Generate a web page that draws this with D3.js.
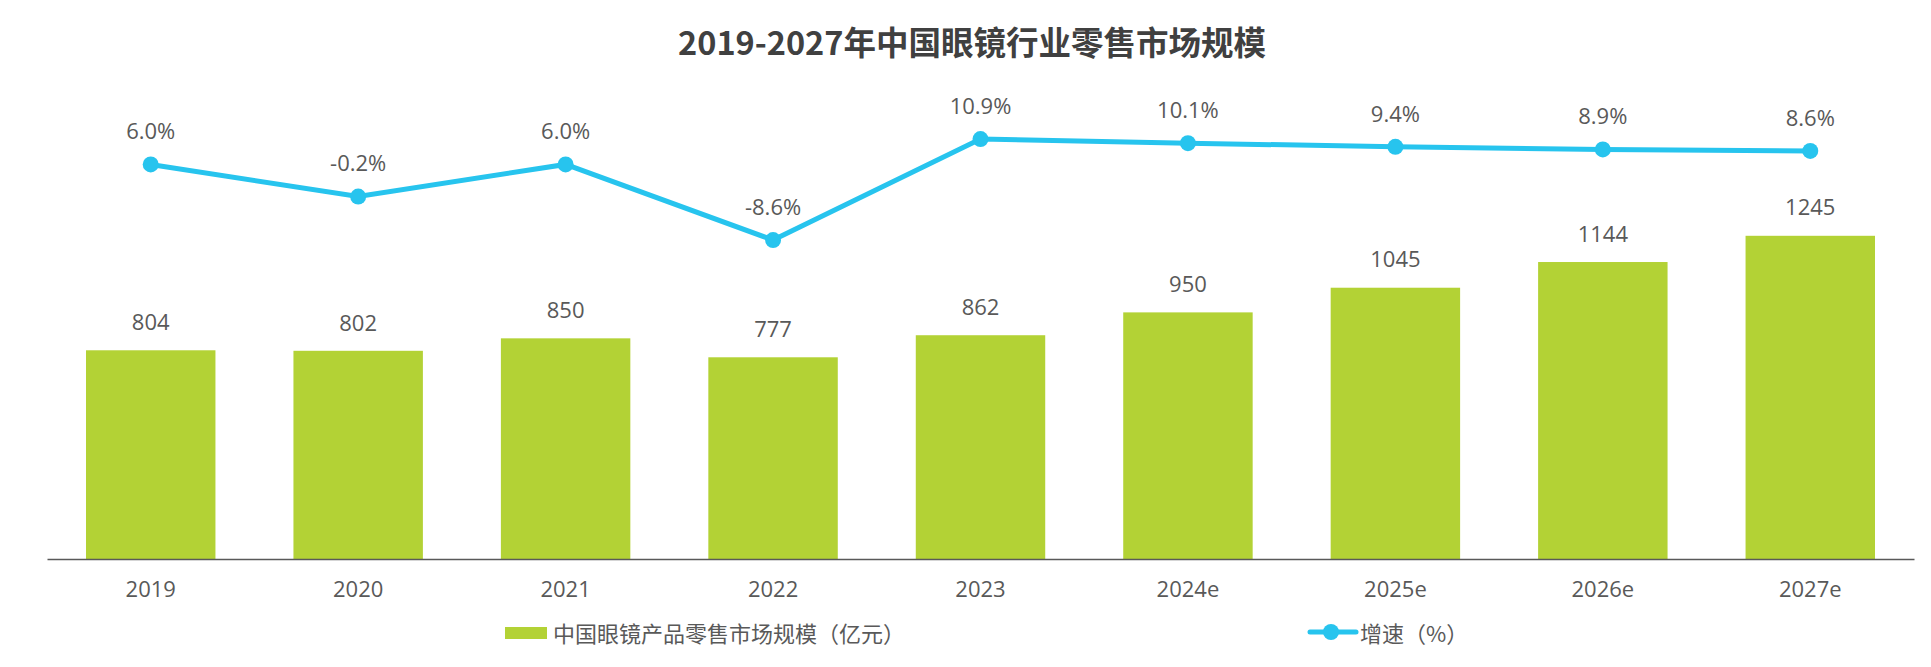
<!DOCTYPE html>
<html>
<head>
<meta charset="utf-8">
<script src="https://cdn.jsdelivr.net/npm/d3@7"></script>
<style>
  body { margin: 0; background: #fff; }
  svg text { font-family: "Open Sans", "Noto Sans CJK SC", sans-serif; }
</style>
</head>
<body>
<svg id="chart" width="1931" height="667"></svg>
<script>
// data
const years = ['2019', '2020', '2021', '2022', '2023', '2024e', '2025e', '2026e', '2027e'];
const retail = [804, 802, 850, 777, 862, 950, 1045, 1144, 1245];
const growth = [6.0, -0.2, 6.0, -8.6, 10.9, 10.1, 9.4, 8.9, 8.6];

const BAR_COLOR = '#b3d235';
const LINE_COLOR = '#27c4ee';
const TEXT_COLOR = '#595959';

const svg = d3.select('#chart');

// scales
const xScale = d3.scaleBand()
  .domain(years)
  .range([47, 1914])
  .paddingInner(0.376)
  .paddingOuter(0.188);

const yBar = d3.scaleLinear()
  .domain([0, 1600])
  .range([559, 559 - 1600 * 0.2596]);

const yLine = d3.scaleLinear()
  .domain([-10, 12])
  .range([195.5 + 10 * 5.18, 195.5 - 12 * 5.18]);

const cx = (d, i) => xScale(years[i]) + xScale.bandwidth() / 2;

// title
svg.append('text')
  .attr('x', 972)
  .attr('y', 44)
  .attr('dy', '0.35em')
  .style('text-anchor', 'middle')
  .style('font-family', '"Noto Sans CJK SC", sans-serif')
  .style('font-weight', 'bold')
  .style('font-size', '32.5px')
  .style('fill', '#404040')
  .text('2019-2027年中国眼镜行业零售市场规模');

// bars
svg.append('g')
  .selectAll('rect')
  .data(retail)
  .enter()
  .append('rect')
  .attr('x', (d, i) => xScale(years[i]))
  .attr('y', d => yBar(d))
  .attr('width', xScale.bandwidth())
  .attr('height', d => yBar(0) - yBar(d))
  .attr('fill', BAR_COLOR);

// bar labels
svg.append('g')
  .selectAll('text')
  .data(retail)
  .enter()
  .append('text')
  .attr('x', cx)
  .attr('y', d => yBar(d) - 28)
  .attr('dy', '0.35em')
  .style('text-anchor', 'middle')
  .style('font-size', '22px')
  .style('fill', TEXT_COLOR)
  .text(d => d);

// x axis
const xAxis = svg.append('g')
  .attr('transform', `translate(0, ${yBar(0)})`)
  .call(d3.axisBottom(xScale).tickSize(0).tickPadding(22));
xAxis.select('.domain')
  .attr('stroke', '#595959')
  .attr('stroke-width', 1.5);
xAxis.selectAll('text')
  .style('font-family', '"Open Sans", sans-serif')
  .style('font-size', '22px')
  .style('fill', TEXT_COLOR);

// growth line
const lineGen = d3.line()
  .x(cx)
  .y(d => yLine(d));

svg.append('path')
  .datum(growth)
  .attr('d', lineGen)
  .attr('fill', 'none')
  .attr('stroke', LINE_COLOR)
  .attr('stroke-width', 5);

svg.append('g')
  .selectAll('circle')
  .data(growth)
  .enter()
  .append('circle')
  .attr('cx', cx)
  .attr('cy', d => yLine(d))
  .attr('r', 8)
  .attr('fill', LINE_COLOR);

// growth labels (plain hyphen for negatives, like the original)
svg.append('g')
  .selectAll('text')
  .data(growth)
  .enter()
  .append('text')
  .attr('x', cx)
  .attr('y', d => yLine(d) - 33)
  .attr('dy', '0.35em')
  .style('text-anchor', 'middle')
  .style('font-size', '22px')
  .style('fill', TEXT_COLOR)
  .text(d => `${d.toFixed(1)}%`);

// LEGEND //
const legend = svg.append('g');
legend.append('rect')
  .attr('x', 505)
  .attr('y', 627)
  .attr('width', 42)
  .attr('height', 12)
  .attr('fill', BAR_COLOR);
legend.append('text')
  .attr('x', 553)
  .attr('y', 634)
  .attr('dy', '0.35em')
  .style('font-family', '"Noto Sans CJK SC", sans-serif')
  .style('font-size', '22px')
  .style('fill', TEXT_COLOR)
  .text('中国眼镜产品零售市场规模（亿元）');

legend.append('line')
  .attr('x1', 1310)
  .attr('x2', 1356)
  .attr('y1', 632)
  .attr('y2', 632)
  .attr('stroke', LINE_COLOR)
  .attr('stroke-width', 5)
  .attr('stroke-linecap', 'round');
legend.append('circle')
  .attr('cx', 1331)
  .attr('cy', 632)
  .attr('r', 8)
  .attr('fill', LINE_COLOR);
legend.append('text')
  .attr('x', 1360)
  .attr('y', 634)
  .attr('dy', '0.35em')
  .style('font-family', '"Noto Sans CJK SC", sans-serif')
  .style('font-size', '22px')
  .style('fill', TEXT_COLOR)
  .text('增速（%）');
</script>
</body>
</html>
